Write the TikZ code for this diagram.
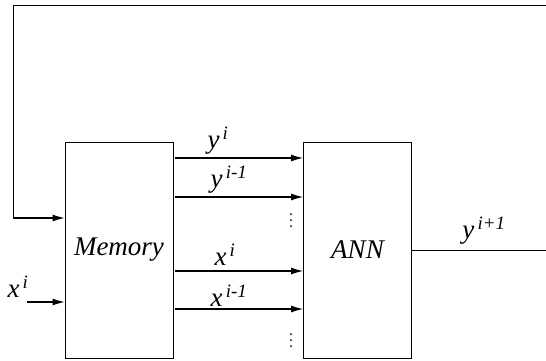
\documentclass[tikz,border=0pt]{standalone}
\usepackage{fontspec}
\setmainfont{Liberation Serif}
\usetikzlibrary{arrows.meta}
\begin{document}
\begin{tikzpicture}[x=1pt,y=-1pt,
  box/.style={draw,line width=0.9pt,minimum width=108pt,minimum height=216pt,inner sep=0pt,font=\fontsize{27}{32}\selectfont\itshape},
  lab/.style={font=\fontsize{27}{32}\selectfont\itshape,inner sep=0pt},
  arr/.style={line width=1.1pt,-{Latex[length=12pt,width=7pt]}},
  ln/.style={line width=0.9pt},
  dot/.style={circle,fill,inner sep=0pt,minimum size=2pt}]
\useasboundingbox (0,0) rectangle (546,360);
\node[box] (mem) at (119,250) {Memory};
\node[box] (ann) at (357.5,250) {ANN};
\coordinate (fbR) at (546,5);
\coordinate (fbL) at (13,5);
\coordinate (fbD) at (13,218);
\draw[ln] (fbR) -- (fbL) -- (fbD);
\draw[arr] (fbD) -- (mem.west |- fbD);
\coordinate (xin) at (27,302);
\draw[arr] (xin) -- (mem.west |- xin);
\node[lab] (lxin) at (18,287) {x\textsuperscript{\,i}};
\foreach \yy/\nm in {158/a,197/b,271/c,309/d}{
  \coordinate (s\nm) at (175,\yy);
  \draw[arr] (s\nm) -- (ann.west |- s\nm);
}
\node[lab] (l1) at (218,141) {y\textsuperscript{\,i}};
\node[lab] (l2) at (229,180) {y\textsuperscript{\,i-1}};
\node[lab] (l3) at (225,255) {x\textsuperscript{\,i}};
\node[lab] (l4) at (229,296) {x\textsuperscript{\,i-1}};
\foreach \yy [count=\k] in {214,220,226,334,340,346}{
  \node[dot] (dt\k) at (291,\yy) {};
}
\coordinate (out) at (546,250);
\draw[ln] (ann.east |- out) -- (out);
\node[lab] (lout) at (484,231) {y\textsuperscript{\,i+1}};
\end{tikzpicture}
\end{document}
